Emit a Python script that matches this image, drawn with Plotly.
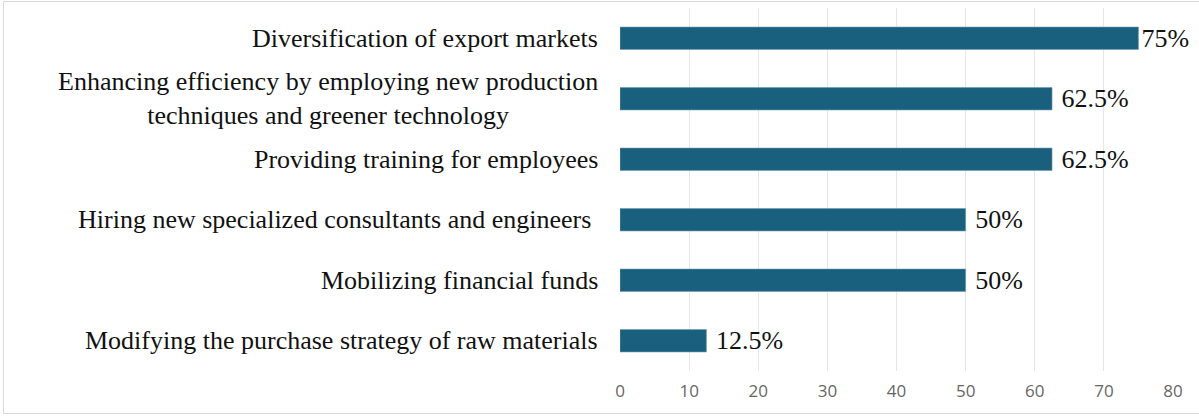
import plotly.graph_objects as go

categories = [
    "Diversification of export markets",
    "Enhancing efficiency by employing new production<br>techniques and greener technology",
    "Providing training for employees",
    "Hiring new specialized consultants and engineers\u00a0",
    "Mobilizing financial funds",
    "Modifying the purchase strategy of raw materials",
]
values = [75, 62.5, 62.5, 50, 50, 12.5]
labels = ["75%", "62.5%", "62.5%", "50%", "50%", "12.5%"]
tick_vals = [0, 10, 20, 30, 40, 50, 60, 70, 80]

W, H = 1199, 416
ML, MR, MT, MB = 620, 26, 8, 45
pw, ph = W - ML - MR, H - MT - MB

fig = go.Figure(go.Bar(
    x=values, y=categories, orientation="h",
    marker=dict(color="#19607F", line=dict(color="#6f9bb0", width=0.6)),
    width=0.37,
    text=["\u00a0" + t if t != "75%" else t for t in labels],
    textposition="outside", constraintext="none",
    textfont=dict(family="Liberation Serif", size=26, color="#111111"),
    cliponaxis=False,
))

for c in categories:
    fig.add_annotation(
        x=0, xref="paper", y=c, yref="y", text=c, showarrow=False,
        xanchor="right", align="center", xshift=-20,
        font=dict(family="Liberation Serif", size=26, color="#111111"),
    )

fig.add_shape(
    type="rect", xref="paper", yref="paper",
    x0=(3.5 - ML) / pw, x1=(W + 5 - ML) / pw,
    y0=-(413.5 - (MT + ph)) / ph, y1=1 + (MT - 1.5) / ph,
    line=dict(color="#d9d9d9", width=1), layer="below",
)

fig.update_layout(
    width=W, height=H,
    margin=dict(l=ML, r=MR, t=MT, b=MB),
    paper_bgcolor="white", plot_bgcolor="white",
    showlegend=False,
    xaxis=dict(
        range=[0, 80], tickvals=tick_vals, showgrid=True,
        gridcolor="#e6e6e6", gridwidth=1, zeroline=False,
        showline=False, ticks="",
        tickfont=dict(family="Open Sans", size=17, color="#666666"),
        ticklabelstandoff=8,
    ),
    yaxis=dict(
        autorange="reversed", showticklabels=False, showgrid=False,
        zeroline=False, showline=False, ticks="",
    ),
)

fig.write_html("out.html", config={"displayModeBar": False},
               post_script="document.body.style.margin='0';")
